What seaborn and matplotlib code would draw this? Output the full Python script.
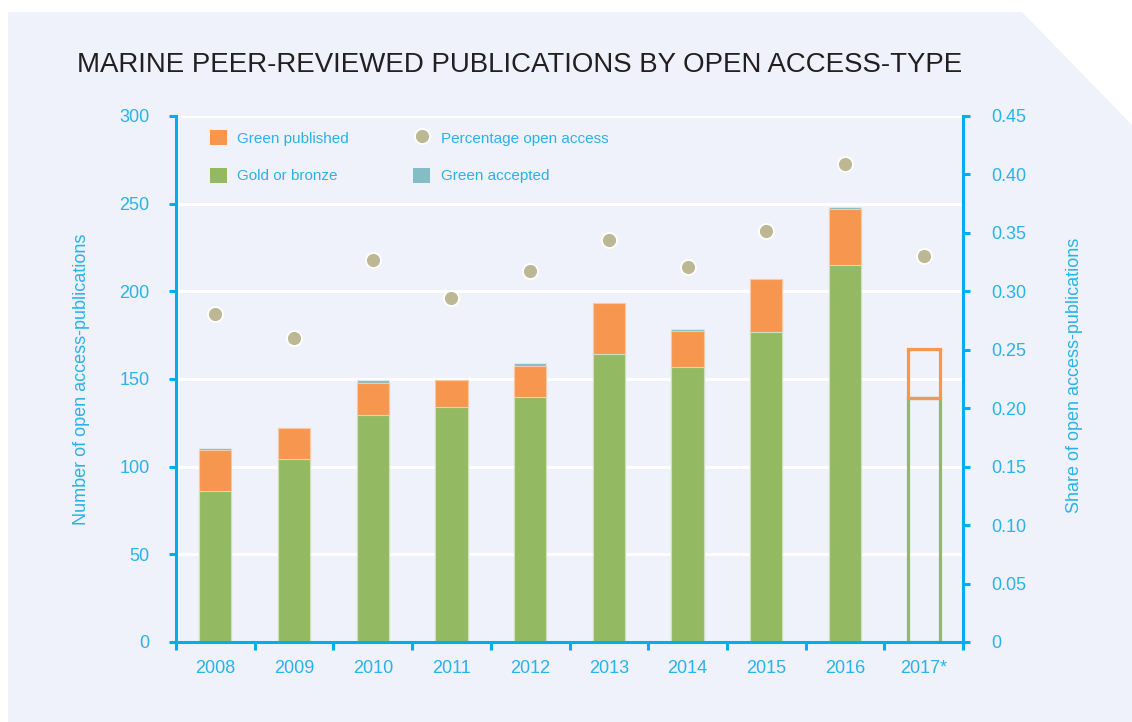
import numpy as np
import pandas as pd
import matplotlib
matplotlib.use("Agg")
import matplotlib.pyplot as plt
import seaborn as sns
from matplotlib.patches import Polygon, Patch
from matplotlib.lines import Line2D
from matplotlib.ticker import FixedLocator

# ---------------- data ----------------
years = ["2008", "2009", "2010", "2011", "2012", "2013", "2014", "2015", "2016", "2017*"]
gold_or_bronze = [86, 104.6, 129.5, 134, 140, 164, 157, 177, 215, 139]
green_published = [23.5, 17.4, 18.2, 15.5, 17.5, 29.5, 20.5, 30, 32, 28]
green_accepted = [1.0, 0.0, 2.0, 0.0, 1.5, 0.0, 1.0, 0.0, 1.0, 0.0]
share_open_access = [0.281, 0.260, 0.327, 0.294, 0.317, 0.344, 0.321, 0.352, 0.409, 0.330]
partial_year = "2017*"

left_ticks = [0, 50, 100, 150, 200, 250, 300]
right_ticks = [0, 0.05, 0.10, 0.15, 0.20, 0.25, 0.30, 0.35, 0.40, 0.45]
right_ticklabels = ["0", "0.05", "0.10", "0.15", "0.20", "0.25", "0.30", "0.35", "0.40", "0.45"]

# ---------------- styles ----------------
C_ORANGE = "#F7964F"
C_GREEN = "#93BA63"
C_TEAL = "#85BDC5"
C_DOT = "#BCB894"
C_AXIS = "#00AEEF"
C_TEXT = "#2AB2EA"
C_PANEL = "#EFF2FA"
FONT = ["Liberation Sans", "DejaVu Sans"]

sns.set_theme(style="white")
plt.rcParams["font.family"] = FONT

df = pd.DataFrame({"year": years, "gold": gold_or_bronze,
                   "pub": green_published, "acc": green_accepted,
                   "share": share_open_access})
df["t_gold"] = df["gold"]
df["t_pub"] = df["gold"] + df["pub"]
df["t_acc"] = df["t_pub"] + df["acc"]
filled = df[df["year"] != partial_year]
partial = df[df["year"] == partial_year]

fig = plt.figure(figsize=(11.32, 7.22), dpi=100)
fig.patch.set_facecolor("white")
W, H = 1132, 722
panel = Polygon([(8 / W, 1 - 12 / H), (1022 / W, 1 - 12 / H), (1.0, 1 - 125 / H),
                 (1.0, 0.0), (8 / W, 0.0)], closed=True, transform=fig.transFigure,
                facecolor=C_PANEL, edgecolor="none", zorder=-10)
fig.patches.append(panel)

ax = fig.add_axes([176 / W, 1 - 642 / H, (963 - 176) / W, (642 - 116) / H])
ax.set_facecolor("none")

bw = 0.41
bar_kw = dict(order=years, width=bw, saturation=1, errorbar=None, ax=ax)
sns.barplot(data=filled, x="year", y="t_acc", color=C_TEAL, linewidth=0.8,
            edgecolor="#dde8ea", **bar_kw)
sns.barplot(data=filled, x="year", y="t_pub", color=C_ORANGE, linewidth=0.8,
            edgecolor="#f9c9a3", **bar_kw)
sns.barplot(data=filled, x="year", y="t_gold", color=C_GREEN, linewidth=0.8,
            edgecolor="#cfe0bb", **bar_kw)

# partial year: outlined bars
sns.barplot(data=partial, x="year", y="t_gold", color=C_GREEN, fill=False,
            linewidth=2.3, **bar_kw)
n1 = len(ax.patches)
sns.barplot(data=partial, x="year", y="t_pub", color=C_ORANGE, fill=False,
            linewidth=2.3, **bar_kw)
gold_val = float(partial["t_gold"].iloc[0])
pub_val = float(partial["t_pub"].iloc[0])
for p in ax.patches[n1:]:
    p.set_y(gold_val)
    p.set_height(pub_val - gold_val)
    p.set_zorder(5)

ax.set_ylim(0, 300)
ax.set_xlim(-0.5, len(years) - 0.5)
ax.set_yticks(left_ticks)
ax.yaxis.grid(True, color="white", linewidth=2.2)
ax.xaxis.grid(False)
ax.set_axisbelow(True)

# secondary axis: share of open access
ax2 = ax.twinx()
sns.pointplot(data=df, x="year", y="share", order=years, linestyle="none",
              marker="o", color=C_DOT, markersize=10.8, markeredgecolor="white",
              markeredgewidth=1.3, errorbar=None, ax=ax2)
ax2.set_ylim(0, 0.45)
ax2.set_yticks(right_ticks)
ax2.set_yticklabels(right_ticklabels)
ax.set_xlim(-0.5, len(years) - 0.5)
ax2.set_xlim(-0.5, len(years) - 0.5)
ax2.grid(False)

# spines & ticks
for s in ["top", "right"]:
    ax.spines[s].set_visible(False)
for s in ["top", "left", "bottom"]:
    ax2.spines[s].set_visible(False)
for s in ["left", "bottom"]:
    ax.spines[s].set_color(C_AXIS)
    ax.spines[s].set_linewidth(2.2)
ax2.spines["right"].set_color(C_AXIS)
ax2.spines["right"].set_linewidth(2.2)

ax.tick_params(axis="y", which="major", direction="out", length=5, width=2.2,
               color=C_AXIS, labelcolor=C_TEXT, labelsize=13, pad=14, left=True)
ax.tick_params(axis="x", which="major", length=0, labelcolor=C_TEXT,
               labelsize=13, pad=13)
ax.xaxis.set_minor_locator(FixedLocator(np.arange(-0.5, len(years), 1.0)))
ax.tick_params(axis="x", which="minor", direction="out", length=6, width=2.2,
               color=C_AXIS, bottom=True)
ax2.tick_params(axis="y", which="major", direction="out", length=5, width=2.2,
                color=C_AXIS, labelcolor=C_TEXT, labelsize=13, pad=15, right=True)

ax.set_xlabel("")
ax.set_ylabel("Number of open access-publications", color=C_TEXT, fontsize=13)
ax.yaxis.set_label_coords(-0.109, 0.5)
ax2.set_xlabel("")
ax2.set_ylabel("Share of open access-publications", color=C_TEXT, fontsize=13)
ax2.yaxis.set_label_coords(1.131, 0.506)

# legend
handles = [
    Patch(facecolor=C_ORANGE, edgecolor="none", label="Green published"),
    Patch(facecolor=C_GREEN, edgecolor="none", label="Gold or bronze"),
    Line2D([0], [0], linestyle="none", marker="o", markersize=10.8, color=C_DOT,
           markeredgecolor="white", markeredgewidth=1.3, label="Percentage open access"),
    Patch(facecolor=C_TEAL, edgecolor="none", label="Green accepted"),
]
leg = ax2.legend(handles=handles, ncol=2, loc="upper left",
                 bbox_to_anchor=(0.043, 0.973), frameon=False, fontsize=11,
                 handlelength=1.1, handleheight=1.1, handletextpad=0.7,
                 labelspacing=1.45, columnspacing=4.2, borderpad=0, borderaxespad=0)
for t in leg.get_texts():
    t.set_color(C_TEXT)

fig.text(77 / W, 1 - 65 / H, "MARINE PEER-REVIEWED PUBLICATIONS BY OPEN ACCESS-TYPE",
         fontsize=19.9, color="#231F20", va="center", ha="left",
         family=["Liberation Sans Narrow", "Liberation Sans", "DejaVu Sans"])

fig.savefig("out.png", dpi=100, facecolor=fig.get_facecolor())
